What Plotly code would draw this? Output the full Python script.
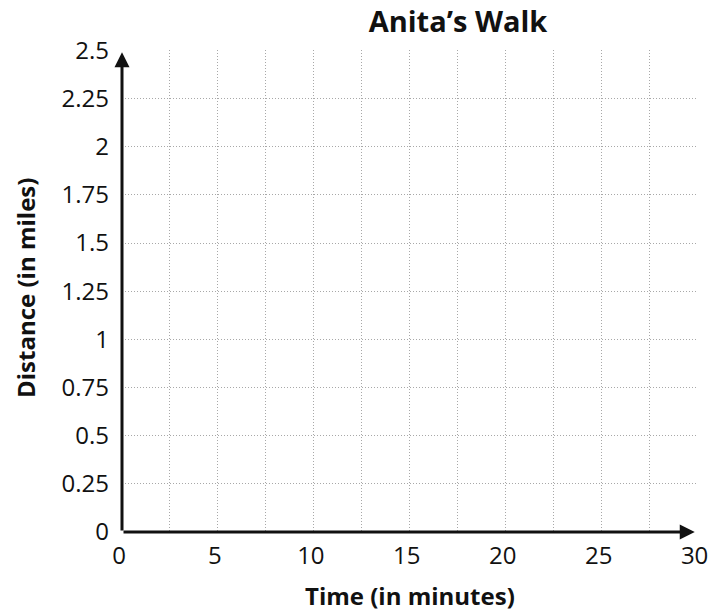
import plotly.graph_objects as go

title = "Anita’s Walk"
x_title = "Time (in minutes)"
y_title = "Distance (in miles)"
x_ticks = [0, 5, 10, 15, 20, 25, 30]
x_tick_labels = ["0", "5", "10", "15", "20", "25", "30"]
y_ticks = [0, 0.25, 0.5, 0.75, 1, 1.25, 1.5, 1.75, 2, 2.25, 2.5]
y_tick_labels = ["0", "0.25", "0.5", "0.75", "1", "1.25", "1.5", "1.75", "2", "2.25", "2.5"]
x_range = [0, 30]
y_range = [0, 2.5]
x_grid_step = 2.5
y_grid_step = 0.25

font = "Open Sans, Noto Sans, sans-serif"
grid_color = "#a8a8a8"
grid_dash = "1px,2px"

L, R, T, B = 122, 10, 50, 79
W, H = 708, 611
pw, ph = W - L - R, H - T - B

fig = go.Figure()
fig.add_trace(go.Scatter(x=[x_range[0]], y=[y_range[0]], mode="markers",
                         marker=dict(opacity=0), hoverinfo="skip", showlegend=False))

fig.update_layout(
    width=W, height=H,
    margin=dict(l=L, r=R, t=T, b=B, autoexpand=False),
    paper_bgcolor="white", plot_bgcolor="white",
    title=dict(text="<b>" + title + "</b>", x=413 / W, xanchor="center", xref="paper",
               y=1 - 22 / H, yanchor="middle", yref="container",
               font=dict(family=font, size=29, color="#111")),
    font=dict(family=font, color="#111"),
    showlegend=False,
)

eps_x = 0.02
eps_y = 0.002
fig.update_xaxes(
    range=[x_range[0], x_range[1] + eps_x], tickvals=x_ticks, ticktext=x_tick_labels,
    tickfont=dict(size=24, color="#111"), ticks="", ticklabelstandoff=7, ticklabelshift=-3,
    ticklabeloverflow="allow", automargin=False,
    showgrid=True, gridcolor=grid_color, griddash=grid_dash, gridwidth=1,
    minor=dict(dtick=x_grid_step, tick0=0, showgrid=True, gridcolor=grid_color, griddash=grid_dash, gridwidth=1),
    zeroline=False, showline=False,
)
fig.update_yaxes(
    range=[y_range[0], y_range[1] + eps_y], tickvals=y_ticks, ticktext=y_tick_labels,
    tickfont=dict(size=24, color="#111"), ticks="", ticklabelstandoff=12,
    ticklabeloverflow="allow", automargin=False,
    showgrid=True, gridcolor=grid_color, griddash=grid_dash, gridwidth=1,
    zeroline=False, showline=False,
)

# axis titles
fig.add_annotation(text="<b>" + x_title + "</b>", xref="paper", yref="paper",
                   x=(410 - L) / pw, y=-(595 - (H - B)) / ph,
                   xanchor="center", yanchor="middle", showarrow=False,
                   font=dict(family=font, size=24, color="#111"))
fig.add_annotation(text="<b>" + y_title + "</b>", xref="paper", yref="paper",
                   x=-(L - 25) / pw, y=((H - B) - 288) / ph,
                   xanchor="center", yanchor="middle", showarrow=False, textangle=-90,
                   font=dict(family=font, size=24, color="#111"))

# axis arrows
fig.add_annotation(x=x_range[1] - 0.15, y=y_range[0], ax=x_range[0], ay=y_range[0],
                   xref="x", yref="y", axref="x", ayref="y", text="",
                   showarrow=True, arrowhead=2, arrowsize=1, arrowwidth=3, arrowcolor="#111")
fig.add_annotation(x=x_range[0], y=y_range[1] - 0.01, ax=x_range[0], ay=y_range[0],
                   xref="x", yref="y", axref="x", ayref="y", text="",
                   showarrow=True, arrowhead=2, arrowsize=1, arrowwidth=3, arrowcolor="#111")

fig.write_html("out.html", config={"displayModeBar": False},
               post_script="document.body.style.margin='0';document.body.style.overflow='hidden';")
